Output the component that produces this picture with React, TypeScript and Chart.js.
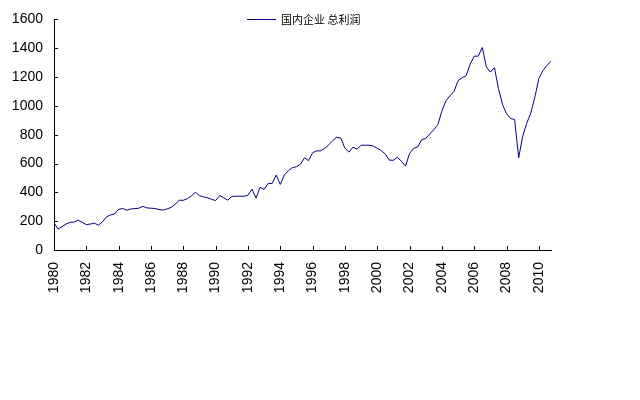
import React, { useEffect, useRef } from "react";
import { Chart, registerables } from "chart.js";

Chart.register(...registerables);

const years = [
  1980, 1981, 1982, 1983, 1984, 1985, 1986, 1987, 1988, 1989, 1990,
  1991, 1992, 1993, 1994, 1995, 1996, 1997, 1998, 1999, 2000, 2001,
  2002, 2003, 2004, 2005, 2006, 2007, 2008, 2009, 2010,
];
const quarters = ["Q1", "Q2", "Q3", "Q4"];
const tickYears = [
  "1980", "1982", "1984", "1986", "1988", "1990", "1992", "1994",
  "1996", "1998", "2000", "2002", "2004", "2006", "2008", "2010",
];
const seriesName = "国内企业 总利润";
const profits = [
  189, 145, 162, 180,
  192, 194, 207, 192,
  176, 180, 186, 172,
  196, 230, 243, 250,
  282, 288, 276, 285,
  287, 290, 303, 292,
  290, 288, 280, 277,
  285, 296, 318, 345,
  345, 356, 375, 400,
  378, 368, 362, 352,
  343, 378, 362, 346,
  372, 373, 373, 373,
  380, 422, 360, 435,
  420, 462, 462, 520,
  455, 520, 550, 572,
  578, 595, 640, 620,
  675, 688, 688, 705,
  730, 760, 783, 775,
  706, 679, 713, 699,
  727, 727, 727, 722,
  706, 690, 665, 623,
  623, 644, 615, 582,
  670, 705, 715, 765,
  775, 805, 835, 870,
  965, 1035, 1070, 1100,
  1175, 1195, 1210, 1290,
  1345, 1345, 1405, 1270,
  1235, 1265, 1120, 1010,
  945, 912, 905, 640,
  790, 880, 950, 1060,
  1190, 1245, 1280, 1310,
];

const labels = years.flatMap((y) => quarters.map((q) => `${y}${q}`));
const LINE = "#000080";

const innerTicks = {
  id: "innerTicks",
  afterDraw(chart: any) {
    const { ctx, scales } = chart;
    const xs = scales.x;
    const ys = scales.y;
    ctx.save();
    ctx.strokeStyle = "#000";
    ctx.lineWidth = 1;
    ctx.beginPath();
    ys.ticks.forEach((_t: any, i: number) => {
      const py = Math.round(ys.getPixelForTick(i)) + 0.5;
      ctx.moveTo(ys.right, py);
      ctx.lineTo(ys.right + 4, py);
    });
    labels.forEach((lab, i) => {
      const yr = lab.slice(0, 4);
      if (lab.endsWith("Q1") && tickYears.includes(yr)) {
        const px = Math.round(xs.getPixelForValue(i)) + 0.5;
        ctx.moveTo(px, xs.top);
        ctx.lineTo(px, xs.top - 4);
      }
    });
    ctx.stroke();
    ctx.restore();
  },
};

const legendPlugin = {
  id: "customLegend",
  afterDraw(chart: any) {
    const { ctx } = chart;
    ctx.save();
    ctx.strokeStyle = LINE;
    ctx.lineWidth = 1;
    ctx.beginPath();
    ctx.moveTo(247, 19.5);
    ctx.lineTo(276, 19.5);
    ctx.stroke();
    ctx.fillStyle = "#000";
    ctx.font = '11px "Noto Sans CJK SC"';
    ctx.textBaseline = "middle";
    ctx.textAlign = "left";
    ctx.fillText(seriesName, 281, 20);
    ctx.restore();
  },
};

export default function App() {
  const ref = useRef<HTMLCanvasElement>(null);
  useEffect(() => {
    if (!ref.current) return;
    const chart = new Chart(ref.current, {
      type: "line",
      data: {
        labels,
        datasets: [
          {
            label: seriesName,
            data: profits,
            borderColor: LINE,
            backgroundColor: LINE,
            borderWidth: 1,
            pointRadius: 0,
            tension: 0,
            fill: false,
          },
        ],
      },
      options: {
        animation: false,
        responsive: false,
        layout: { padding: { left: 0, right: 89, top: 19, bottom: 0 } },
        plugins: { legend: { display: false }, tooltip: { enabled: false } },
        scales: {
          x: {
            type: "category",
            offset: false,
            grid: { display: false, drawTicks: false },
            border: { display: true, color: "#000", width: 1 },
            afterFit: (s: any) => {
              s.height = 150;
            },
            ticks: {
              autoSkip: false,
              maxRotation: 90,
              minRotation: 90,
              padding: 12,
              color: "#000",
              font: { family: '"Liberation Sans", Arial', size: 14 },
              callback: (_v: any, i: number) => {
                const lab = labels[i];
                const yr = lab.slice(0, 4);
                return lab.endsWith("Q1") && tickYears.includes(yr) ? yr : "";
              },
            },
          },
          y: {
            min: 0,
            max: 1600,
            grid: { display: false, drawTicks: false },
            border: { display: true, color: "#000", width: 1 },
            afterFit: (s: any) => {
              s.width = 54;
            },
            ticks: {
              stepSize: 200,
              padding: 11,
              color: "#000",
              font: { family: '"Liberation Sans", Arial', size: 14 },
              callback: (v: any) => String(v),
            },
          },
        },
      },
      plugins: [innerTicks, legendPlugin],
    });
    return () => chart.destroy();
  }, []);
  return (
    <div style={{ position: "absolute", left: 0, top: 0, width: 640, height: 400, background: "#fff" }}>
      <canvas ref={ref} width={640} height={400} />
    </div>
  );
}
